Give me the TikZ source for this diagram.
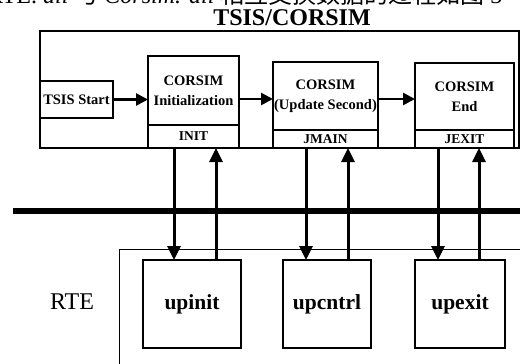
\documentclass[tikz,border=0pt]{standalone}
\usepackage{fontspec}
\setmainfont{Liberation Serif}
\newfontfamily\cjk{Noto Sans CJK SC}
\usetikzlibrary{arrows.meta}
\tikzset{
  box/.style={draw, line width=1.5pt, inner sep=0pt, outer sep=0pt},
  boxtxt/.style={font=\bfseries\fontsize{14.5}{20}\selectfont, align=center},
  lbltxt/.style={font=\bfseries\fontsize{13.5}{14}\selectfont},
  uptxt/.style={font=\bfseries\fontsize{21.5}{22}\selectfont},
  arr/.style={line width=3pt, -{Triangle[width=13pt,length=14pt]}},
  harr/.style={line width=2.6pt, -{Triangle[width=12pt,length=12pt]}},
}
\begin{document}
\begin{tikzpicture}[x=1pt,y=1pt]
\useasboundingbox (0,0) rectangle (520,-364);
% clipped caption line
\node[anchor=base west, inner sep=0pt, font=\fontsize{24}{26}\selectfont] (cap) at (-13,-3)
  {RTE. \textit{dll} {\cjk 与} \textit{Corsim. dll} {\cjk 相互交换数据的过程如图} 3};
% title
\node[font=\bfseries\fontsize{24}{26}\selectfont, inner sep=0pt] (title) at (292,-18) {TSIS/CORSIM};
% TSIS outer box
\node[box, anchor=north west, minimum width=479pt, minimum height=117pt] (tsis) at (40,-31) {};
% TSIS start
\node[box, anchor=north west, minimum width=73pt, minimum height=37pt, boxtxt] (start) at (40,-81) {TSIS Start};
% CORSIM Init
\node[box, anchor=north west, minimum width=91pt, minimum height=69pt, boxtxt] (inittop) at (148,-56) {CORSIM\\Initialization};
\node[box, anchor=north west, minimum width=91pt, minimum height=23pt, lbltxt] (initb) at (148,-125) {INIT};
% CORSIM Update
\node[box, anchor=north west, minimum width=105pt, minimum height=68pt, boxtxt] (updtop) at (273,-62) {CORSIM\\(Update Second)};
\node[box, anchor=north west, minimum width=105pt, minimum height=18pt, lbltxt] (updb) at (273,-130) {JMAIN};
% CORSIM End
\node[box, anchor=north west, minimum width=99pt, minimum height=67pt, boxtxt] (endtop) at (415,-63) {CORSIM\\End};
\node[box, anchor=north west, minimum width=99pt, minimum height=18pt, lbltxt] (endb) at (415,-130) {JEXIT};
% horizontal arrows
\draw[harr] (start.east) -- (start.east -| inittop.west);
\draw[harr] ([yshift=-8.5pt]inittop.east) -- ([yshift=-8.5pt]inittop.east -| updtop.west);
\draw[harr] ([yshift=-3pt]updtop.east) -- ([yshift=-3pt]updtop.east -| endtop.west);
% bus
\coordinate (busL) at (13,-211);
\coordinate (busR) at (522,-211);
\draw[line width=5.5pt] (busL) -- (busR);
% RTE box
\node[draw, line width=1.1pt, anchor=north west, minimum width=410pt, minimum height=130pt, inner sep=0pt] (rte) at (119,-249) {};
\node[font=\fontsize{24}{26}\selectfont, inner sep=0pt] (rtelbl) at (72,-302) {RTE};
% RTE sub boxes
\node[box, anchor=north west, minimum width=98pt, minimum height=88pt, uptxt] (upinit) at (143,-260) {upinit};
\node[box, anchor=north west, minimum width=88pt, minimum height=88pt, uptxt] (upcntrl) at (283,-260) {upcntrl};
\node[box, anchor=north west, minimum width=90pt, minimum height=88pt, uptxt] (upexit) at (415,-260) {upexit};
% vertical arrows
\draw[arr] ([xshift=-19.5pt]initb.south) -- ([xshift=-19.5pt]initb.south |- upinit.north);
\draw[arr] ([xshift=22.5pt]initb.south |- upinit.north) -- ([xshift=22.5pt]initb.south);
\draw[arr] ([xshift=-19.5pt]updb.south) -- ([xshift=-19.5pt]updb.south |- upcntrl.north);
\draw[arr] ([xshift=22.5pt]updb.south |- upcntrl.north) -- ([xshift=22.5pt]updb.south);
\draw[arr] ([xshift=-26.5pt]endb.south) -- ([xshift=-26.5pt]endb.south |- upexit.north);
\draw[arr] ([xshift=14.5pt]endb.south |- upexit.north) -- ([xshift=14.5pt]endb.south);
\end{tikzpicture}
\end{document}
